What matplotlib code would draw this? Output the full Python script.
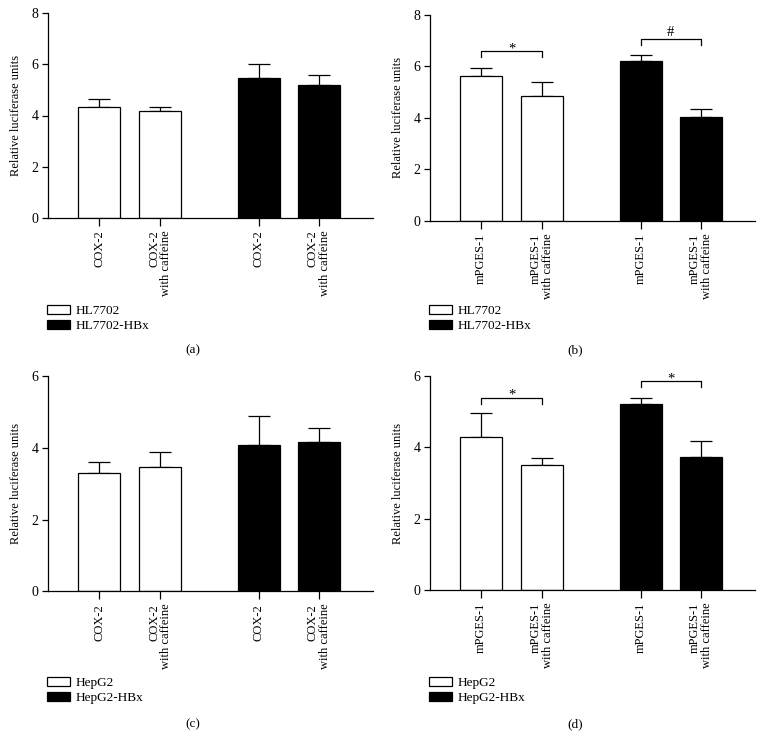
import numpy as np
import matplotlib.pyplot as plt
from matplotlib.patches import Patch

plt.rcParams['font.family'] = 'Liberation Serif'
plt.rcParams['axes.linewidth'] = 0.9

# bar positions (two groups of two)
pos = [1, 2, 3.62, 4.6]
fills = ['white', 'white', 'black', 'black']

cox_labels = ['COX-2', 'COX-2\nwith caffeine', 'COX-2', 'COX-2\nwith caffeine']
mpges_labels = ['mPGES-1', 'mPGES-1\nwith caffeine', 'mPGES-1', 'mPGES-1\nwith caffeine']

a_mean = [4.33, 4.17, 5.48, 5.19]
a_err = [0.30, 0.16, 0.52, 0.41]
b_mean = [5.63, 4.84, 6.23, 4.04]
b_err = [0.31, 0.56, 0.20, 0.32]
c_mean = [3.31, 3.47, 4.08, 4.17]
c_err = [0.31, 0.42, 0.80, 0.40]
d_mean = [4.30, 3.51, 5.20, 3.72]
d_err = [0.67, 0.20, 0.18, 0.46]

# significance brackets: (bar i, bar j, height, mark)
b_sig = [(0, 1, 6.6, '*'), (2, 3, 7.06, '#')]
d_sig = [(0, 1, 5.39, '*'), (2, 3, 5.84, '*')]

hl_legend = ['HL7702', 'HL7702-HBx']
hep_legend = ['HepG2', 'HepG2-HBx']

W, H = 764, 738
fig = plt.figure(figsize=(W/100, H/100), dpi=100)


def panel(rect, mean, err, labels, ymax, legend, tag, caption_y, legend_y, sig=None):
    l, t, r, b = rect
    ax = fig.add_axes([l/W, 1-b/H, (r-l)/W, (b-t)/H])
    ax.bar(pos, mean, width=0.69, color=fills, edgecolor='black', linewidth=0.9, zorder=2)
    ax.errorbar(pos, mean, yerr=[np.zeros(len(err)), err], fmt='none', ecolor='black',
                elinewidth=0.9, capsize=8, capthick=0.9, zorder=1)
    ax.set_xlim(0.164, 5.49)
    ax.set_ylim(0, ymax)
    ax.set_yticks(np.arange(0, ymax + 1, 2))
    ax.set_xticks(pos)
    ax.set_xticklabels(labels, rotation=90, ha='center', va='top', multialignment='right',
                       fontsize=9, linespacing=1.0)
    ax.tick_params(axis='y', labelsize=10, length=4, width=0.9, pad=3)
    ax.tick_params(axis='x', length=6, width=0.9, pad=3)
    ax.spines['top'].set_visible(False)
    ax.spines['right'].set_visible(False)
    ax.set_ylabel('Relative luciferase units', fontsize=9, labelpad=7)
    if sig:
        drop = 6.0 / (b - t) * ymax
        for i, j, y, mark in sig:
            ax.plot([pos[i], pos[i], pos[j], pos[j]], [y - drop, y, y, y - drop],
                    color='black', lw=0.9, clip_on=False)
            off = -3 if mark == '*' else 0
            ax.annotate(mark, ((pos[i] + pos[j]) / 2, y), xytext=(0, off), textcoords='offset points',
                        ha='center', va='bottom', fontsize=10.5)
    handles = [Patch(facecolor=c, edgecolor='black', linewidth=0.9) for c in ['white', 'black']]
    fig.legend(handles, legend, loc='upper left', bbox_to_anchor=(l/W - 0.001, 1 - legend_y/H),
               frameon=False, fontsize=9.5, handlelength=1.7, handleheight=0.7,
               handletextpad=0.45, labelspacing=0.2, borderpad=0, borderaxespad=0)
    fig.text((l + 145) / W, 1 - caption_y / H, tag, ha='center', va='center', fontsize=9.5)
    return ax


panel((48, 13, 373, 218), a_mean, a_err, cox_labels, 8, hl_legend, '(a)', 350, 305)
panel((430, 15, 755, 220.7), b_mean, b_err, mpges_labels, 8, hl_legend, '(b)', 350, 305, b_sig)
panel((48, 376.3, 373, 591.3), c_mean, c_err, cox_labels, 6, hep_legend, '(c)', 724, 677)
panel((430, 375.7, 755, 590.3), d_mean, d_err, mpges_labels, 6, hep_legend, '(d)', 724, 677, d_sig)

fig.savefig('out.png', dpi=100)
